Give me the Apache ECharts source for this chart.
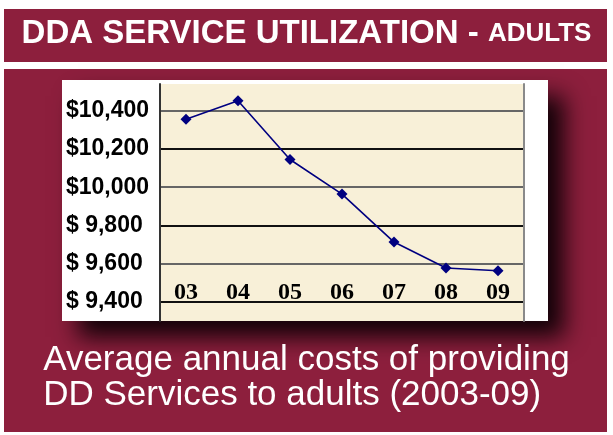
<!DOCTYPE html>
<html>
<head>
<meta charset="utf-8">
<script src="https://cdn.jsdelivr.net/npm/echarts@6/dist/echarts.min.js"></script>
<style>
  html, body { margin: 0; padding: 0; background: #ffffff; }
  #chart { width: 613px; height: 435px; }
</style>
</head>
<body>
<div id="chart"></div>
<script>
// Fiscal years (2003-09) along the bottom
const years = ['03', '04', '05', '06', '07', '08', '09'];
// Average annual cost per adult, in dollars
const avgCost = [10355, 10452, 10145, 9964, 9713, 9577, 9563];
// Dollar tick labels on the left axis
const costTicks = [9400, 9600, 9800, 10000, 10200, 10400];

const heading = 'DDA SERVICE UTILIZATION - ';
const headingSmall = 'ADULTS';
const caption = ['Average annual costs of providing', 'DD Services to adults (2003-09)'];

const maroon = '#8D1F3D';

function dollarLabel(v) {
  if (costTicks.indexOf(v) < 0) return '';
  const s = v.toLocaleString('en-US');
  return s.length < 6 ? '$ ' + s : '$' + s;
}

const chart = echarts.init(document.getElementById('chart'), null, { renderer: 'canvas' });

chart.setOption({
  animation: false,
  backgroundColor: '#ffffff',
  graphic: [
    { type: 'rect', z: -10, shape: { x: 4, y: 9, width: 603, height: 53 }, style: { fill: maroon } },
    { type: 'rect', z: -10, shape: { x: 4, y: 69, width: 603, height: 363 }, style: { fill: maroon } },
    {
      type: 'rect', z: -9, shape: { x: 62, y: 80, width: 486, height: 241 },
      style: { fill: '#ffffff', shadowBlur: 22, shadowOffsetX: 16, shadowOffsetY: 16, shadowColor: 'rgba(18,2,8,1)' }
    },
    {
      type: 'text', z: 10, left: 'center', top: 17,
      style: {
        text: '{a|' + heading + '}{b|' + headingSmall + '}',
        rich: {
          a: { fontFamily: 'Liberation Sans', fontWeight: 'bold', fontSize: 33, fill: '#ffffff' },
          b: { fontFamily: 'Liberation Sans', fontWeight: 'bold', fontSize: 26, fill: '#ffffff' }
        }
      }
    },
    {
      type: 'text', z: 10, left: 'center', top: 343,
      style: {
        text: caption.join('\n'), fill: '#ffffff', align: 'center',
        fontFamily: 'Liberation Sans', fontSize: 35, lineHeight: 35
      }
    }
  ],
  grid: {
    left: 160, right: 89, top: 84, bottom: 114,
    show: true, backgroundColor: '#F8F0D8', borderWidth: 0
  },
  xAxis: {
    type: 'category',
    data: years,
    boundaryGap: true,
    axisLine: { show: false },
    axisTick: { show: false },
    axisLabel: {
      inside: true, margin: 16,
      fontFamily: 'Liberation Serif', fontWeight: 'bold', fontSize: 24, color: '#000000'
    }
  },
  yAxis: [
    {
      type: 'value', min: 9300, max: 10540, interval: 100,
      axisLine: { show: true, lineStyle: { color: '#333333', width: 2 } },
      axisTick: { show: false },
      axisLabel: {
        formatter: dollarLabel, align: 'left', margin: 94,
        fontFamily: 'Liberation Sans', fontWeight: 'bold', fontSize: 23, color: '#000000'
      },
      splitLine: {
        show: true, showMaxLine: false,
        lineStyle: { color: ['rgba(0,0,0,0)', '#111111', 'rgba(0,0,0,0)', '#666666'], width: 2 }
      }
    },
    {
      type: 'value', position: 'right', min: 9300, max: 10540, interval: 100,
      axisLine: { show: true, lineStyle: { color: '#8a8a8a', width: 2 } },
      axisTick: { show: false }, axisLabel: { show: false }, splitLine: { show: false }
    }
  ],
  series: [{
    type: 'line',
    data: avgCost,
    symbol: 'diamond',
    symbolSize: 11,
    lineStyle: { color: '#000080', width: 1.6 },
    itemStyle: { color: '#000080' }
  }]
});
</script>
</body>
</html>
